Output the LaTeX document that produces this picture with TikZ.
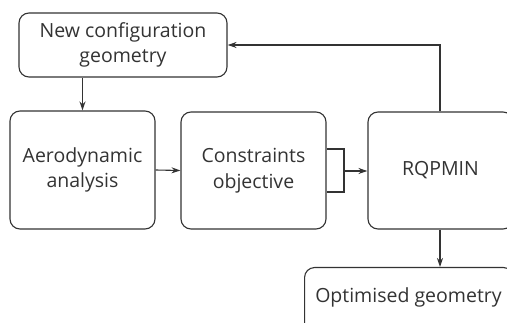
\documentclass[tikz,border=0pt]{standalone}
\usepackage{fontspec}
\setmainfont{Open Sans}
\usetikzlibrary{arrows.meta,calc}
\definecolor{ink}{HTML}{333333}
\tikzset{
  blk/.style={draw=ink, line width=1.1pt, rounded corners=10pt, inner sep=0pt,
    text=ink, align=center, font=\fontsize{19.5}{25.5}\selectfont},
  conn/.style={draw=ink, line width=1.1pt, -{Stealth[length=9pt,width=6pt]}},
  plain/.style={draw=ink, line width=1.1pt}
}
\begin{document}
\begin{tikzpicture}[x=1pt,y=-1pt]
\useasboundingbox (0,0) rectangle (507,323);
\clip (0,0) rectangle (507,323);
\node[blk, minimum width=208pt, minimum height=64pt] (new) at (123,45) {New configuration\\geometry};
\node[blk, minimum width=145pt, minimum height=118pt] (aero) at (82.5,170) {Aerodynamic\\analysis};
\node[blk, minimum width=145pt, minimum height=117pt] (cons) at (253.5,170.5) {Constraints\\objective};
\node[blk, minimum width=145pt, minimum height=117pt] (rqp) at (440.5,170.5) {RQPMIN};
\node[blk, minimum width=209pt, minimum height=70pt, anchor=north west] (opt) at (304,267) {};
\node[text=ink, font=\fontsize{19.5}{25.5}\selectfont] (optt) at (408.5,297) {Optimised geometry};
\coordinate (b1) at (344,149);
\coordinate (b2) at (344,192);
\coordinate (bm) at (344,171);
\coordinate (up) at (440,45);
\draw[conn] (new.south -| aero.north) -- (aero.north);
\draw[conn] (aero.east) -- (cons.west);
\draw[plain] (cons.east |- b1) -- (b1) -- (b2) -- (cons.east |- b2);
\draw[conn] (bm) -- (rqp.west |- bm);
\draw[conn] (rqp.north -| up) -- (up) -- (new.east);
\draw[conn] (rqp.south -| up) -- (opt.north -| up);
\end{tikzpicture}
\end{document}
